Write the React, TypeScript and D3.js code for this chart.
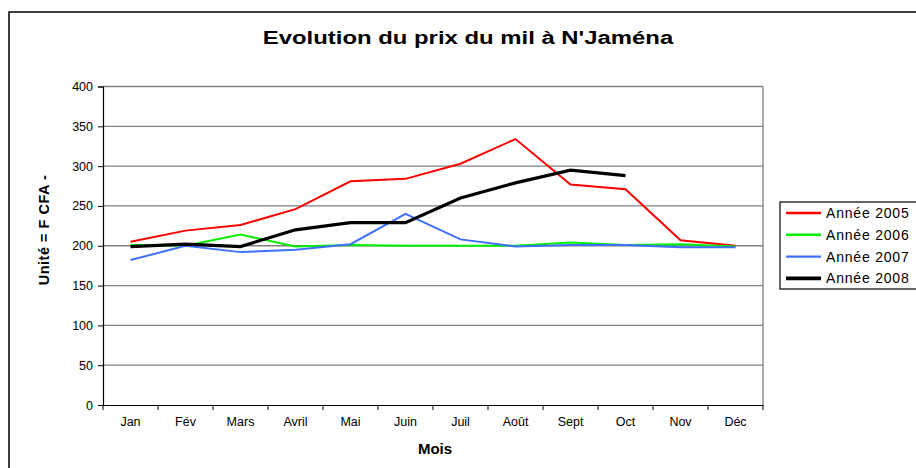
import React, { useEffect, useRef } from "react";
import * as d3 from "d3";

const months = ["Jan", "Fév", "Mars", "Avril", "Mai", "Juin", "Juil", "Août", "Sept", "Oct", "Nov", "Déc"];
const yTicks = [0, 50, 100, 150, 200, 250, 300, 350, 400];
const prix2005 = [205, 219, 226, 246, 281, 284, 303, 334, 277, 271, 207, 200];
const prix2006 = [201, 200, 214, 199, 201, 200, 200, 200, 204, 201, 202, 199];
const prix2007 = [182, 200, 192, 195, 202, 240, 208, 199, 201, 201, 198, 198];
const prix2008: (number | null)[] = [199, 202, 199, 220, 229, 229, 260, 279, 295, 288, null, null];
const seriesNames = ["Année 2005", "Année 2006", "Année 2007", "Année 2008"];
const seriesColors = ["#ff0000", "#00f000", "#3f6fff", "#000000"];
const seriesWidths = [2, 2, 2, 3.2];

export default function App() {
  const ref = useRef<SVGSVGElement>(null);
  useEffect(() => {
    const svg = d3.select(ref.current);
    svg.selectAll("*").remove();
    const W = 916, H = 468;
    const left = 103, right = 763, top = 86.5, bottom = 405;
    const font = "Liberation Sans, Arial, sans-serif";

    // outer border
    svg.append("rect").attr("x", 9).attr("y", 12).attr("width", W).attr("height", H)
      .attr("fill", "white").attr("stroke", "#000").attr("stroke-width", 1.5);

    svg.append("text").attr("transform", "translate(468,44) scale(1.2,1)").attr("text-anchor", "middle")
      .attr("font-family", font).attr("font-weight", "bold").attr("font-size", 18.5)
      .attr("textLength", 342).attr("lengthAdjust", "spacingAndGlyphs")
      .text("Evolution du prix du mil à N'Jaména");

    const x = d3.scaleBand<string>().domain(months).range([left, right]);
    const y = d3.scaleLinear().domain([0, 400]).range([bottom, top]);

    // gridlines
    svg.append("g").selectAll("line").data(yTicks.filter(t => t > 0)).join("line")
      .attr("x1", left).attr("x2", right).attr("y1", d => y(d)).attr("y2", d => y(d))
      .attr("stroke", "#808080").attr("stroke-width", 1.3);
    svg.append("line").attr("x1", right).attr("x2", right).attr("y1", top).attr("y2", bottom)
      .attr("stroke", "#808080").attr("stroke-width", 1.3);

    // y axis
    const ya = svg.append("g").attr("transform", `translate(${left},0)`)
      .call(d3.axisLeft(y).tickValues(yTicks).tickSize(5).tickPadding(5));
    ya.select(".domain").attr("stroke", "#000").attr("stroke-width", 1.2);
    ya.selectAll(".tick line").attr("stroke", "#000");
    ya.selectAll("text").attr("font-family", font).attr("font-size", 12.5).attr("fill", "#000");

    // x axis
    const xa = svg.append("g").attr("transform", `translate(0,${bottom})`)
      .call(d3.axisBottom(x).tickSize(0).tickPadding(12));
    xa.select(".domain").attr("stroke", "#000").attr("stroke-width", 1.2);
    xa.selectAll("text").attr("font-family", font).attr("font-size", 12.5).attr("fill", "#000");
    svg.append("g").selectAll("line").data(d3.range(months.length + 1)).join("line")
      .attr("x1", i => left + i * x.step()).attr("x2", i => left + i * x.step())
      .attr("y1", bottom).attr("y2", bottom + 5).attr("stroke", "#000");

    svg.append("text").attr("x", 435).attr("y", 454).attr("text-anchor", "middle")
      .attr("font-family", font).attr("font-weight", "bold").attr("font-size", 15).text("Mois");
    svg.append("text").attr("transform", `translate(49,230) rotate(-90)`).attr("text-anchor", "middle")
      .attr("font-family", font).attr("font-weight", "bold").attr("font-size", 14.5)
      .attr("letter-spacing", 0.5).text("Unité = F CFA -");

    const all = [prix2005, prix2006, prix2007, prix2008];
    const line = d3.line<number | null>()
      .defined(d => d != null)
      .x((_, i) => (x(months[i]) as number) + x.bandwidth() / 2)
      .y(d => y(d as number));
    all.forEach((s, i) => {
      svg.append("path").datum(s).attr("d", line).attr("fill", "none")
        .attr("stroke", seriesColors[i]).attr("stroke-width", seriesWidths[i])
        .attr("stroke-linejoin", "miter");
    });

    // legend
    const lg = svg.append("g");
    lg.append("rect").attr("x", 780).attr("y", 202).attr("width", 200).attr("height", 87)
      .attr("fill", "white").attr("stroke", "#000").attr("stroke-width", 1.2);
    seriesNames.forEach((n, i) => {
      const yy = 213 + i * 21.8;
      lg.append("line").attr("x1", 786).attr("x2", 821).attr("y1", yy).attr("y2", yy)
        .attr("stroke", seriesColors[i]).attr("stroke-width", seriesWidths[i] + 0.4);
      lg.append("text").attr("x", 826).attr("y", yy + 5).attr("font-family", font)
        .attr("font-size", 14).attr("letter-spacing", 0.8).text(n);
    });
  }, []);
  return (
    <svg ref={ref} width={916} height={468}
      style={{ position: "absolute", left: 0, top: 0, background: "white" }} />
  );
}
